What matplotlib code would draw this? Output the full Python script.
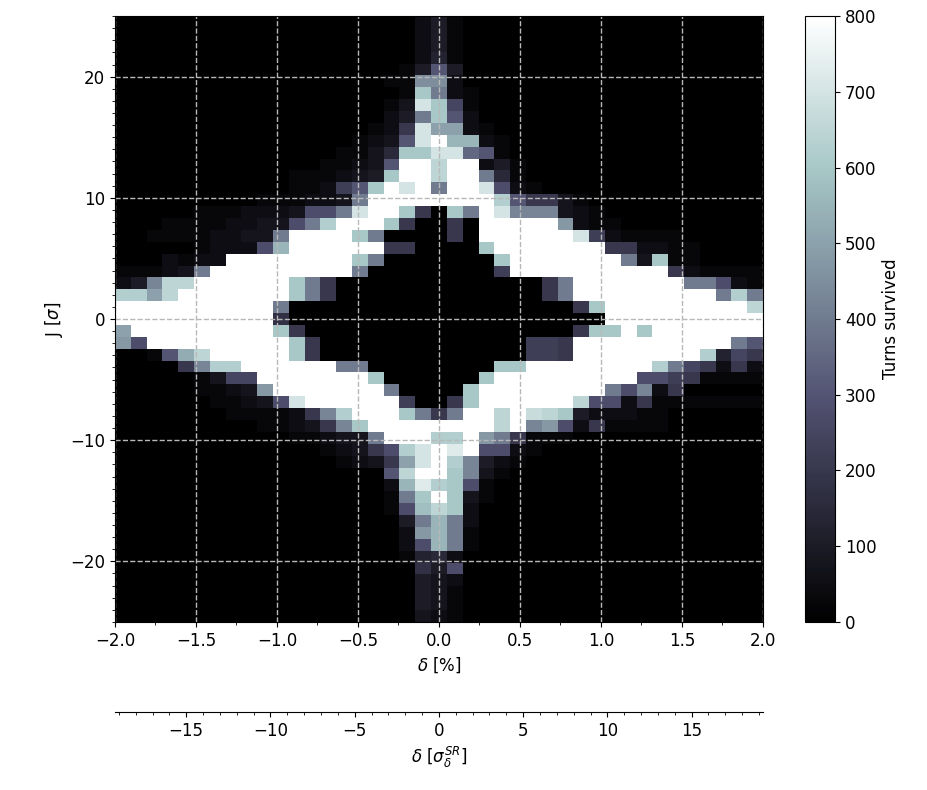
import numpy as np
import matplotlib.pyplot as plt
from matplotlib.ticker import MultipleLocator

# scan grid: momentum offset [%] along x, amplitude J [sigma] along y
delta = np.round(np.linspace(-2, 2, 41), 2)
J = np.arange(25, -26, -1)
sigma_delta = 0.104  # % per sigma_delta^SR

# turns survived; one string per J row (J=25 first), one char per delta column
# char position in LEVELS * 25 = turns (w = 800)
LEVELS = "0123456789abcdefghijklmnopqrstuvw"
rows = [
    "0000000000 0000000002 4 1000000000 0000000000",
    "0000000000 0000000002 4 1000000000 0000000000",
    "0000000000 0000000002 4 1000000000 0000000000",
    "0000000000 0000000002 5 1000000000 0000000000",
    "0000000000 0000000014 c 4000000000 0000000000",
    "0000000000 000000011i i 2000000000 0000000000",
    "0000000000 000000001o g 2100000000 0000000000",
    "0000000000 000000013s o a100000000 0000000000",
    "0000000000 000000024g o c200000000 0000000000",
    "0000000000 000000128s k k210000000 0000000000",
    "0000000000 00000123cs w mm21000000 0000000000",
    "0000000000 00001136oo s sec1000000 0000000000",
    "0000000000 0001123cww q ww24100000 0000000000",
    "0000000000 0111234oww q wwg6100000 0000000000",
    "0000000000 01129cowsw g wwsb210000 0000000000",
    "0000000001 11223gwwww w wwwpc88310 0000000000",
    "0000011122 23bbgswwo8 0 ogwshhh321 0000000000",
    "0001111223 3bgpwwwo80 0 80wwwwwj21 1000000000",
    "0011112233 gwwwwog000 0 80wwwwwws9 2111100000",
    "000001222b mwwwwww880 0 00owwwwwww 8822110000",
    "0002122www wwwwwog000 0 000owwwwww wg3o110000",
    "11123gwwww wwwwwg0000 0 0009wwwwww wwww821111",
    "24hqqwwwww wog8000000 0 0000008gww wwwwwggb21",
    "ppkqwwwwww wog8000000 0 0000008gww wwwwwwwgpg",
    "wwwwwwwwww g000000000 0 000000008o wwwwwwwwwq",
    "wwwwwwwwww 7000000000 0 0000000000 wwwwwwwwww",
    "kwwwwwwwww o800000000 0 000000008o owowwwwwww",
    "jbwwwwwwww wo80000000 0 00000998ww wwwwwwwwgc",
    "001clqwwww wo80000000 0 00000998ww wwwwwwp5a8",
    "00008hppww wwwwgg0000 0 000oowwwww wwwpga8282",
    "0000013aaw wwwwwwo000 0 00owwwwwww wwbb981111",
    "000001123j wwwwwwwg00 0 0owwwwwwww gbh2800000",
    "0000001123 bswwwwww90 0 8owwwwwwqb b281111111",
    "0000000111 128hpwwwog 8 gwwqwrqo42 2211000000",
    "0000000001 1238howwww w wwwqwhjb28 1111000000",
    "0000000000 011233gwww p pwjg811100 0000000000",
    "0000000000 0001238bps w twbb210000 0000000000",
    "0000000000 00001238ks w ph42100000 0000000000",
    "0000000000 0000000cqw w oh31000000 0000000000",
    "0000000000 00000002mt p ob10000000 0000000000",
    "0000000000 00000001go w o310000000 0000000000",
    "0000000000 00000001bn q o200000000 0000000000",
    "0000000000 000000004g m g200000000 0000000000",
    "0000000000 000000002j m g100000000 0000000000",
    "0000000000 000000002b m g100000000 0000000000",
    "0000000000 0000000015 6 2000000000 0000000000",
    "0000000000 0000000007 4 b000000000 0000000000",
    "0000000000 0000000004 3 2000000000 0000000000",
    "0000000000 0000000004 3 1000000000 0000000000",
    "0000000000 0000000004 3 1000000000 0000000000",
    "0000000000 0000000003 2 1000000000 0000000000",
]
turns = np.array([[LEVELS.index(c) * 25 for c in r.replace(" ", "")] for r in rows])

fig = plt.figure(figsize=(9.27, 7.9), dpi=100)
ax = fig.add_axes([0.124, 0.2127, 0.699, 0.767])
cax = fig.add_axes([0.868, 0.2127, 0.033, 0.767])

im = ax.imshow(turns, cmap="bone", vmin=0, vmax=800, aspect="auto",
               interpolation="nearest", origin="upper",
               extent=[delta[0], delta[-1], J[-1], J[0]])

ax.set_xlim(-2, 2)
ax.set_ylim(-25, 25)
ax.xaxis.set_major_locator(MultipleLocator(0.5))
ax.xaxis.set_minor_locator(MultipleLocator(0.25))
ax.yaxis.set_major_locator(MultipleLocator(10))
ax.yaxis.set_minor_locator(MultipleLocator(1))
ax.tick_params(labelsize=12)
ax.grid(True, which="major", linestyle="--", color="0.72", linewidth=1.0)
ax.set_xlabel(r"$\delta$ [%]", fontsize=12)
ax.set_ylabel(r"J [$\sigma$]", fontsize=12)

# second delta scale in units of the rms energy spread
sec = ax.secondary_xaxis(-0.1485, functions=(lambda d: d / sigma_delta,
                                             lambda s: s * sigma_delta))
sec.xaxis.set_major_locator(MultipleLocator(5))
sec.xaxis.set_minor_locator(MultipleLocator(1))
sec.tick_params(labelsize=12)
sec.set_xlabel(r"$\delta$ [$\sigma_\delta^{SR}$]", fontsize=12)

cb = fig.colorbar(im, cax=cax)
cb.set_ticks(np.arange(0, 801, 100))
cb.ax.tick_params(labelsize=12)
cb.set_label("Turns survived", fontsize=12)

fig.savefig("out.png", dpi=100)
